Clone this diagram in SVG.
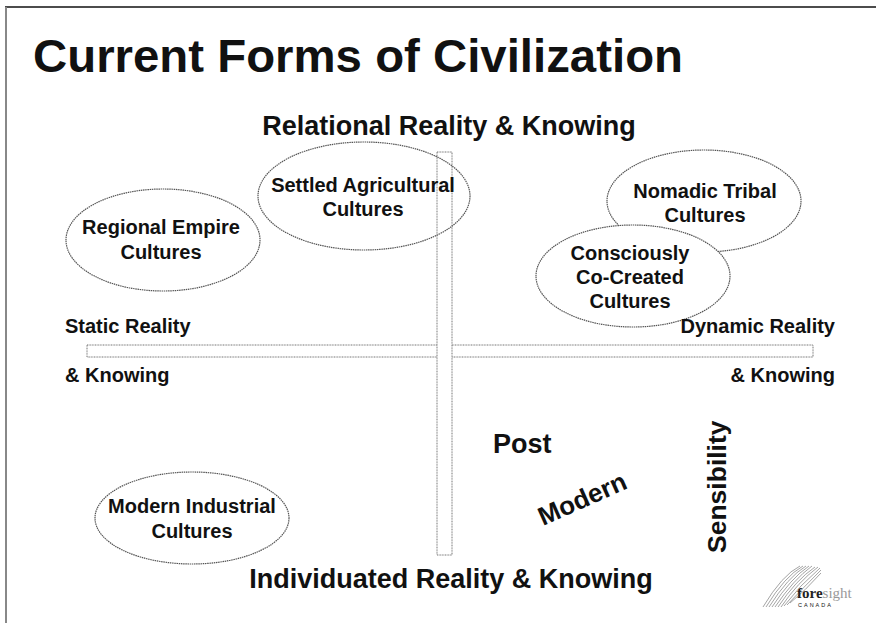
<svg xmlns="http://www.w3.org/2000/svg" width="876" height="623" viewBox="0 0 876 623">
<style>
  text { font-family: "Liberation Sans", Arial, sans-serif; font-weight: bold; fill: #111; }
  .lbl { font-size: 20px; text-anchor: middle; }
  .axis { font-size: 27px; }
  .side { font-size: 20px; }
  .node { stroke: #555; stroke-width: 1.2; stroke-dasharray: 1.5 0.7; }
  .bar { fill: #fff; stroke: #777; stroke-width: 1; stroke-dasharray: 1 0.6; }
  .sw { fill: none; stroke: #666; stroke-width: 0.6; }
</style>
<rect width="876" height="623" fill="#fff"/>
<line x1="5" y1="7" x2="876" y2="7" stroke="#111" stroke-width="1.6"/>
<line x1="6" y1="7" x2="6" y2="623" stroke="#888" stroke-width="2"/>

<text x="33" y="72" font-size="46" textLength="650" lengthAdjust="spacingAndGlyphs">Current Forms of Civilization</text>

<g id="connectors">
  <rect class="bar" x="87" y="345" width="726" height="12"/>
  <rect class="bar" x="437" y="152" width="15" height="403"/>
</g>

<g id="regional-empire">
  <ellipse class="node" cx="163" cy="240" rx="97" ry="51" fill="#fff"/>
  <text class="lbl" x="161" y="234">Regional Empire</text>
  <text class="lbl" x="161" y="259">Cultures</text>
</g>
<g id="settled-agricultural">
  <ellipse class="node" cx="364" cy="196" rx="106" ry="54" fill="none"/>
  <text class="lbl" x="363" y="192">Settled Agricultural</text>
  <text class="lbl" x="363" y="216">Cultures</text>
</g>
<g id="nomadic-tribal">
  <ellipse class="node" cx="704" cy="201" rx="97" ry="51" fill="#fff"/>
  <text class="lbl" x="705" y="198">Nomadic Tribal</text>
  <text class="lbl" x="705" y="222">Cultures</text>
</g>
<g id="consciously-co-created">
  <ellipse class="node" cx="633" cy="276" rx="97" ry="51" fill="#fff"/>
  <text class="lbl" x="630" y="260">Consciously</text>
  <text class="lbl" x="630" y="284">Co-Created</text>
  <text class="lbl" x="630" y="308">Cultures</text>
</g>
<g id="modern-industrial">
  <ellipse class="node" cx="192" cy="518" rx="97" ry="46" fill="#fff"/>
  <text class="lbl" x="192" y="513">Modern Industrial</text>
  <text class="lbl" x="192" y="538">Cultures</text>
</g>

<text class="axis" x="449" y="135" text-anchor="middle">Relational Reality &amp; Knowing</text>
<text class="axis" x="451" y="588" text-anchor="middle">Individuated Reality &amp; Knowing</text>
<text class="side" x="65" y="333">Static Reality</text>
<text class="side" x="65" y="382">&amp; Knowing</text>
<text class="side" x="835" y="333" text-anchor="end">Dynamic Reality</text>
<text class="side" x="835" y="382" text-anchor="end">&amp; Knowing</text>

<text x="493" y="453" font-size="27">Post</text>
<text x="0" y="0" font-size="26" transform="translate(543,526) rotate(-24)">Modern</text>
<text x="0" y="0" font-size="26.5" transform="translate(726,553) rotate(-90)">Sensibility</text>

<g id="logo">
  <path class="sw" d="M763 607 Q782 575 800 566"/>
  <path class="sw" d="M766 607 Q785 576 803 566"/>
  <path class="sw" d="M769 607 Q788 577 806 566"/>
  <path class="sw" d="M772 607 Q791 578 809 566"/>
  <path class="sw" d="M775 607 Q794 579 812 566"/>
  <path class="sw" d="M778 607 Q796 580 815 567"/>
  <path class="sw" d="M781 607 Q798 582 818 567"/>
  <path class="sw" d="M784 606 Q800 585 820 568"/>
  <path class="sw" d="M787 605 Q803 588 821 570"/>
  <path class="sw" d="M790 603 Q805 591 821 573"/>
  <text x="797" y="598" style="font-family:'Liberation Serif','Times New Roman',serif;font-size:15px"><tspan fill="#222">fore</tspan><tspan fill="#999" font-weight="normal">sight</tspan></text>
  <text x="798" y="607" font-size="5.5" letter-spacing="2" fill="#444" style="font-weight:normal">CANADA</text>
</g>
</svg>
